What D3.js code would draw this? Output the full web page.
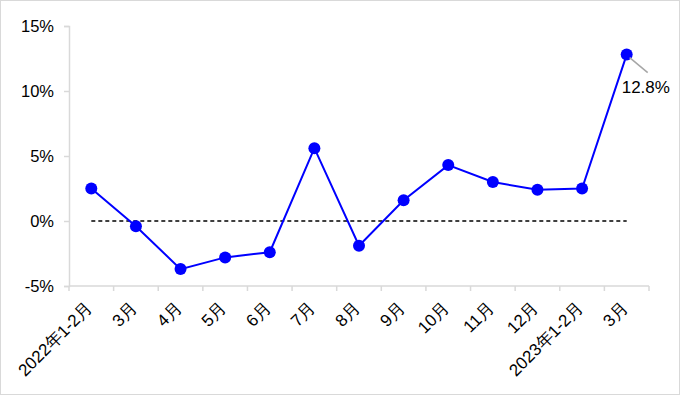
<!DOCTYPE html>
<html>
<head>
<meta charset="utf-8">
<script src="https://cdn.jsdelivr.net/npm/d3@7"></script>
<style>
  body { margin: 0; background: #fff; }
  svg { display: block; font-family: "Liberation Sans", Arial, sans-serif; }
</style>
</head>
<body>
<svg id="chart"></svg>
<script>
const categories = ["2022年1-2月", "3月", "4月", "5月", "6月", "7月", "8月", "9月", "10月", "11月", "12月", "2023年1-2月", "3月"];
const values = [2.5, -0.4, -3.7, -2.8, -2.4, 5.6, -1.9, 1.6, 4.3, 3.0, 2.4, 2.5, 12.8];
const yTicks = [-5, 0, 5, 10, 15];
const labelValue = "12.8%";

const width = 680, height = 395;
const margin = { top: 26, right: 31, bottom: 109, left: 69 };

const svg = d3.select("#chart").attr("width", width).attr("height", height);

svg.append("rect")
  .attr("x", 0.5).attr("y", 0.5)
  .attr("width", width - 1).attr("height", height - 1)
  .attr("fill", "#fff").attr("stroke", "#d9d9d9");

const keys = d3.range(categories.length);

const x = d3.scaleBand()
  .domain(keys)
  .range([margin.left, width - margin.right]);

const y = d3.scaleLinear()
  .domain([-5, 15])
  .range([height - margin.bottom, margin.top]);

// y axis
const yAxis = svg.append("g")
  .attr("transform", `translate(${margin.left},0)`)
  .call(d3.axisLeft(y).tickValues(yTicks).tickFormat(d => d + "%").tickSize(5).tickPadding(10));
yAxis.select(".domain").attr("stroke", "#d9d9d9").attr("stroke-width", 1.5);
yAxis.selectAll(".tick line").attr("stroke", "#d9d9d9").attr("stroke-width", 1.5);
yAxis.selectAll(".tick text").attr("font-size", 16.5).attr("fill", "#000").attr("font-family", "Liberation Sans, Arial, sans-serif");

// x axis at bottom (-5%)
const xAxisY = y(-5);
const xg = svg.append("g");
xg.append("line")
  .attr("x1", margin.left).attr("x2", width - margin.right)
  .attr("y1", xAxisY).attr("y2", xAxisY)
  .attr("stroke", "#d9d9d9").attr("stroke-width", 1.5);
xg.selectAll("line.tk")
  .data(keys.concat([categories.length]))
  .join("line")
  .attr("class", "tk")
  .attr("x1", d => d < categories.length ? x(d) : x.range()[1])
  .attr("x2", d => d < categories.length ? x(d) : x.range()[1])
  .attr("y1", xAxisY).attr("y2", xAxisY + 5)
  .attr("stroke", "#d9d9d9").attr("stroke-width", 1.5);

xg.selectAll("text")
  .data(keys)
  .join("text")
  .attr("transform", d => `translate(${x(d) + x.bandwidth() / 2 + 2},${xAxisY + 23}) rotate(-45)`)
  .attr("text-anchor", "end")
  .attr("font-size", 17)
  .attr("fill", "#000")
  .text(d => categories[d]);

const cx = i => x(i) + x.bandwidth() / 2;

// zero dashed line
svg.append("line")
  .attr("x1", cx(0)).attr("x2", cx(categories.length - 1))
  .attr("y1", y(0)).attr("y2", y(0))
  .attr("stroke", "#000").attr("stroke-width", 1.5)
  .attr("stroke-dasharray", "4,3");

// series line
const line = d3.line()
  .x((d, i) => cx(i))
  .y(d => y(d));

svg.append("path")
  .datum(values)
  .attr("d", line)
  .attr("fill", "none")
  .attr("stroke", "#0000ff")
  .attr("stroke-width", 2);

svg.selectAll("circle.pt")
  .data(values)
  .join("circle")
  .attr("class", "pt")
  .attr("cx", (d, i) => cx(i))
  .attr("cy", d => y(d))
  .attr("r", 6)
  .attr("fill", "#0000ff");

// label for last point
const last = values.length - 1;
svg.append("line")
  .attr("x1", cx(last) + 3).attr("y1", y(values[last]) + 3)
  .attr("x2", cx(last) + 21).attr("y2", y(values[last]) + 18)
  .attr("stroke", "#a6a6a6").attr("stroke-width", 1.5);
svg.append("text")
  .attr("x", cx(last) - 5)
  .attr("y", y(values[last]) + 38)
  .attr("font-size", 17)
  .attr("fill", "#000")
  .text(labelValue);
</script>
</body>
</html>
